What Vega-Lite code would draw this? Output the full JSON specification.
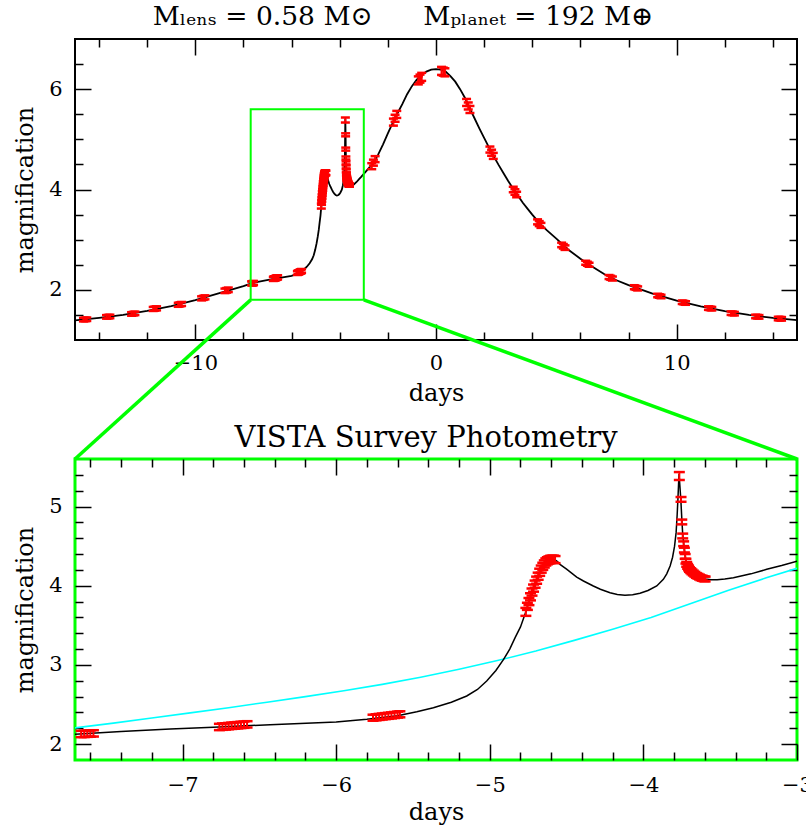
{
  "$schema": "https://vega.github.io/schema/vega-lite/v6.json",
  "background": "white",
  "padding": {"left": 12, "top": 2, "right": 0, "bottom": 0},
  "spacing": 119,
  "bounds": "flush",
  "config": {
    "font": "DejaVu Serif",
    "axis": {"domain": false, "grid": false, "tickColor": "black", "tickWidth": 1.5, "labelFont": "DejaVu Serif", "labelFontSize": 21, "labelColor": "black", "titleFont": "DejaVu Serif", "titleFontSize": 24, "titleFontWeight": "normal", "titleColor": "black", "labelFlush": false, "labelOverlap": false, "format": "~g"},
    "title": {"font": "DejaVu Serif", "fontSize": 26.5, "fontWeight": "normal", "color": "black"}
  },
  "datasets": {
    "model": [
      {"t": -15, "A": 1.39}, {"t": -14, "A": 1.44}, {"t": -13, "A": 1.5}, {"t": -12, "A": 1.58}, {"t": -11, "A": 1.675}, {"t": -10, "A": 1.795}, {"t": -9, "A": 1.935}, {"t": -8, "A": 2.075},
      {"t": -7.7, "A": 2.125}, {"t": -7.4, "A": 2.16}, {"t": -7.08, "A": 2.19}, {"t": -6.8, "A": 2.215}, {"t": -6.43, "A": 2.245}, {"t": -6.0, "A": 2.28}, {"t": -5.8, "A": 2.315}, {"t": -5.6, "A": 2.36},
      {"t": -5.475, "A": 2.41}, {"t": -5.367, "A": 2.46}, {"t": -5.25, "A": 2.53}, {"t": -5.15, "A": 2.608}, {"t": -5.08, "A": 2.69}, {"t": -5.02, "A": 2.797}, {"t": -4.96, "A": 2.93}, {"t": -4.91, "A": 3.07},
      {"t": -4.87, "A": 3.2}, {"t": -4.835, "A": 3.344}, {"t": -4.8, "A": 3.48}, {"t": -4.765, "A": 3.67}, {"t": -4.745, "A": 3.8}, {"t": -4.725, "A": 3.92}, {"t": -4.705, "A": 4.02}, {"t": -4.685, "A": 4.12},
      {"t": -4.665, "A": 4.21}, {"t": -4.645, "A": 4.275}, {"t": -4.625, "A": 4.315}, {"t": -4.605, "A": 4.332}, {"t": -4.585, "A": 4.334}, {"t": -4.565, "A": 4.315}, {"t": -4.543, "A": 4.27}, {"t": -4.5, "A": 4.21},
      {"t": -4.434, "A": 4.11}, {"t": -4.39, "A": 4.06}, {"t": -4.326, "A": 3.997}, {"t": -4.28, "A": 3.955}, {"t": -4.217, "A": 3.912}, {"t": -4.17, "A": 3.89}, {"t": -4.12, "A": 3.88}, {"t": -4.07, "A": 3.885},
      {"t": -4.022, "A": 3.905}, {"t": -3.97, "A": 3.94}, {"t": -3.913, "A": 3.997}, {"t": -3.87, "A": 4.08}, {"t": -3.848, "A": 4.15}, {"t": -3.826, "A": 4.25}, {"t": -3.81, "A": 4.36}, {"t": -3.797, "A": 4.5},
      {"t": -3.787, "A": 4.67}, {"t": -3.78, "A": 4.9}, {"t": -3.775, "A": 5.1}, {"t": -3.771, "A": 5.28}, {"t": -3.768, "A": 5.41}, {"t": -3.762, "A": 5.25}, {"t": -3.756, "A": 5.08}, {"t": -3.75, "A": 4.85},
      {"t": -3.744, "A": 4.65}, {"t": -3.738, "A": 4.53}, {"t": -3.733, "A": 4.45}, {"t": -3.723, "A": 4.32}, {"t": -3.712, "A": 4.245}, {"t": -3.7, "A": 4.205}, {"t": -3.684, "A": 4.175}, {"t": -3.665, "A": 4.145},
      {"t": -3.645, "A": 4.12}, {"t": -3.625, "A": 4.1}, {"t": -3.598, "A": 4.085}, {"t": -3.56, "A": 4.075}, {"t": -3.52, "A": 4.075}, {"t": -3.47, "A": 4.085}, {"t": -3.414, "A": 4.1}, {"t": -3.3, "A": 4.15},
      {"t": -3.197, "A": 4.207}, {"t": -3.1, "A": 4.255}, {"t": -3.0, "A": 4.31}, {"t": -2.8, "A": 4.42}, {"t": -2.6, "A": 4.535}, {"t": -2.4, "A": 4.7}, {"t": -2.2, "A": 4.9}, {"t": -2.0, "A": 5.12},
      {"t": -1.8, "A": 5.33}, {"t": -1.6, "A": 5.52}, {"t": -1.4, "A": 5.7}, {"t": -1.2, "A": 5.9}, {"t": -1.0, "A": 6.06}, {"t": -0.8, "A": 6.19}, {"t": -0.6, "A": 6.28}, {"t": -0.4, "A": 6.35},
      {"t": -0.2, "A": 6.39}, {"t": 0, "A": 6.4}, {"t": 0.2, "A": 6.39}, {"t": 0.4, "A": 6.35}, {"t": 0.6, "A": 6.26}, {"t": 0.8, "A": 6.15}, {"t": 1.0, "A": 6.0}, {"t": 1.2, "A": 5.83},
      {"t": 1.4, "A": 5.62}, {"t": 1.6, "A": 5.42}, {"t": 1.8, "A": 5.22}, {"t": 2.0, "A": 5.03}, {"t": 2.2, "A": 4.84}, {"t": 2.4, "A": 4.66}, {"t": 2.6, "A": 4.49}, {"t": 2.8, "A": 4.33},
      {"t": 3.0, "A": 4.17}, {"t": 3.2, "A": 4.02}, {"t": 3.4, "A": 3.88}, {"t": 3.6, "A": 3.74}, {"t": 3.8, "A": 3.62}, {"t": 4.0, "A": 3.5}, {"t": 4.3, "A": 3.33}, {"t": 4.6, "A": 3.19},
      {"t": 5.0, "A": 3.02}, {"t": 5.5, "A": 2.8}, {"t": 6.0, "A": 2.62}, {"t": 6.5, "A": 2.46}, {"t": 7.0, "A": 2.31}, {"t": 7.5, "A": 2.19}, {"t": 8.0, "A": 2.095}, {"t": 9.0, "A": 1.925},
      {"t": 10.0, "A": 1.785}, {"t": 11.0, "A": 1.67}, {"t": 12.0, "A": 1.575}, {"t": 13.0, "A": 1.5}, {"t": 14.0, "A": 1.44}, {"t": 15.0, "A": 1.395}
    ],
    "single": [
      {"t": -7.7, "A": 2.205}, {"t": -7.45, "A": 2.265}, {"t": -7.2, "A": 2.33}, {"t": -6.95, "A": 2.395}, {"t": -6.7, "A": 2.46}, {"t": -6.45, "A": 2.53}, {"t": -6.2, "A": 2.6}, {"t": -5.95, "A": 2.675},
      {"t": -5.7, "A": 2.755}, {"t": -5.45, "A": 2.845}, {"t": -5.2, "A": 2.945}, {"t": -4.95, "A": 3.055}, {"t": -4.7, "A": 3.175}, {"t": -4.45, "A": 3.31}, {"t": -4.2, "A": 3.45}, {"t": -3.95, "A": 3.6},
      {"t": -3.7, "A": 3.77}, {"t": -3.45, "A": 3.94}, {"t": -3.2, "A": 4.1}, {"t": -3.0, "A": 4.22}
    ],
    "obs": [
      {"t": -14.65, "lo": 1.371, "hi": 1.441}, {"t": -14.58, "lo": 1.375, "hi": 1.445}, {"t": -14.51, "lo": 1.379, "hi": 1.449},
      {"t": -13.69, "lo": 1.426, "hi": 1.496}, {"t": -13.62, "lo": 1.43, "hi": 1.5}, {"t": -13.55, "lo": 1.434, "hi": 1.504},
      {"t": -12.65, "lo": 1.484, "hi": 1.554}, {"t": -12.58, "lo": 1.49, "hi": 1.56}, {"t": -12.51, "lo": 1.496, "hi": 1.566},
      {"t": -11.75, "lo": 1.579, "hi": 1.659}, {"t": -11.68, "lo": 1.585, "hi": 1.665}, {"t": -11.61, "lo": 1.591, "hi": 1.671},
      {"t": -10.71, "lo": 1.662, "hi": 1.742}, {"t": -10.64, "lo": 1.67, "hi": 1.75}, {"t": -10.57, "lo": 1.678, "hi": 1.758},
      {"t": -9.74, "lo": 1.79, "hi": 1.87}, {"t": -9.67, "lo": 1.8, "hi": 1.88}, {"t": -9.6, "lo": 1.81, "hi": 1.89},
      {"t": -8.77, "lo": 1.935, "hi": 2.025}, {"t": -8.7, "lo": 1.945, "hi": 2.035}, {"t": -8.63, "lo": 1.955, "hi": 2.045},
      {"t": -7.66, "lo": 2.088, "hi": 2.168}, {"t": -7.64, "lo": 2.09, "hi": 2.17}, {"t": -7.62, "lo": 2.092, "hi": 2.172}, {"t": -7.6, "lo": 2.094, "hi": 2.174}, {"t": -7.58, "lo": 2.096, "hi": 2.176},
      {"t": -6.76, "lo": 2.177, "hi": 2.257}, {"t": -6.74, "lo": 2.181, "hi": 2.261}, {"t": -6.72, "lo": 2.184, "hi": 2.264}, {"t": -6.7, "lo": 2.188, "hi": 2.268}, {"t": -6.68, "lo": 2.192, "hi": 2.272},
      {"t": -6.66, "lo": 2.195, "hi": 2.275}, {"t": -6.64, "lo": 2.199, "hi": 2.279}, {"t": -6.62, "lo": 2.203, "hi": 2.283}, {"t": -6.6, "lo": 2.206, "hi": 2.286}, {"t": -6.58, "lo": 2.21, "hi": 2.29},
      {"t": -5.76, "lo": 2.296, "hi": 2.372}, {"t": -5.74, "lo": 2.301, "hi": 2.377}, {"t": -5.72, "lo": 2.306, "hi": 2.382}, {"t": -5.7, "lo": 2.311, "hi": 2.387}, {"t": -5.68, "lo": 2.316, "hi": 2.392},
      {"t": -5.66, "lo": 2.32, "hi": 2.396}, {"t": -5.64, "lo": 2.325, "hi": 2.401}, {"t": -5.62, "lo": 2.33, "hi": 2.406}, {"t": -5.6, "lo": 2.335, "hi": 2.411}, {"t": -5.585, "lo": 2.339, "hi": 2.415},
      {"t": -4.765, "lo": 3.62, "hi": 3.72}, {"t": -4.755, "lo": 3.695, "hi": 3.785}, {"t": -4.745, "lo": 3.755, "hi": 3.845}, {"t": -4.735, "lo": 3.815, "hi": 3.905}, {"t": -4.725, "lo": 3.875, "hi": 3.965},
      {"t": -4.715, "lo": 3.925, "hi": 4.015}, {"t": -4.705, "lo": 3.975, "hi": 4.065}, {"t": -4.695, "lo": 4.025, "hi": 4.115}, {"t": -4.685, "lo": 4.075, "hi": 4.165}, {"t": -4.675, "lo": 4.125, "hi": 4.215},
      {"t": -4.665, "lo": 4.165, "hi": 4.255}, {"t": -4.655, "lo": 4.2, "hi": 4.29}, {"t": -4.645, "lo": 4.23, "hi": 4.32}, {"t": -4.635, "lo": 4.255, "hi": 4.345}, {"t": -4.625, "lo": 4.27, "hi": 4.36},
      {"t": -4.615, "lo": 4.28, "hi": 4.37}, {"t": -4.605, "lo": 4.287, "hi": 4.377}, {"t": -4.595, "lo": 4.29, "hi": 4.38}, {"t": -4.585, "lo": 4.289, "hi": 4.379}, {"t": -4.575, "lo": 4.285, "hi": 4.375},
      {"t": -3.766, "lo": 5.335, "hi": 5.435}, {"t": -3.755, "lo": 5.06, "hi": 5.12}, {"t": -3.75, "lo": 4.775, "hi": 4.835}, {"t": -3.744, "lo": 4.598, "hi": 4.658}, {"t": -3.738, "lo": 4.5, "hi": 4.56},
      {"t": -3.733, "lo": 4.42, "hi": 4.48}, {"t": -3.728, "lo": 4.34, "hi": 4.4}, {"t": -3.723, "lo": 4.28, "hi": 4.34}, {"t": -3.718, "lo": 4.24, "hi": 4.3}, {"t": -3.712, "lo": 4.215, "hi": 4.275},
      {"t": -3.706, "lo": 4.195, "hi": 4.255}, {"t": -3.7, "lo": 4.175, "hi": 4.235}, {"t": -3.692, "lo": 4.16, "hi": 4.22}, {"t": -3.684, "lo": 4.145, "hi": 4.205}, {"t": -3.675, "lo": 4.13, "hi": 4.19},
      {"t": -3.665, "lo": 4.115, "hi": 4.175}, {"t": -3.655, "lo": 4.1, "hi": 4.16}, {"t": -3.645, "lo": 4.09, "hi": 4.15}, {"t": -3.635, "lo": 4.08, "hi": 4.14}, {"t": -3.625, "lo": 4.07, "hi": 4.13},
      {"t": -3.615, "lo": 4.064, "hi": 4.124}, {"t": -3.605, "lo": 4.058, "hi": 4.118}, {"t": -3.598, "lo": 4.055, "hi": 4.115},
      {"t": -2.67, "lo": 4.405, "hi": 4.525}, {"t": -2.6, "lo": 4.475, "hi": 4.595}, {"t": -2.53, "lo": 4.545, "hi": 4.665},
      {"t": -1.77, "lo": 5.273, "hi": 5.413}, {"t": -1.7, "lo": 5.35, "hi": 5.49}, {"t": -1.63, "lo": 5.427, "hi": 5.567},
      {"t": -0.735, "lo": 6.095, "hi": 6.255}, {"t": -0.665, "lo": 6.13, "hi": 6.29}, {"t": -0.595, "lo": 6.165, "hi": 6.325},
      {"t": 0.23, "lo": 6.284, "hi": 6.444}, {"t": 0.3, "lo": 6.27, "hi": 6.43}, {"t": 0.37, "lo": 6.256, "hi": 6.416},
      {"t": 1.27, "lo": 5.665, "hi": 5.805}, {"t": 1.34, "lo": 5.595, "hi": 5.735}, {"t": 1.41, "lo": 5.525, "hi": 5.665},
      {"t": 2.24, "lo": 4.736, "hi": 4.856}, {"t": 2.31, "lo": 4.673, "hi": 4.793}, {"t": 2.38, "lo": 4.61, "hi": 4.73},
      {"t": 3.21, "lo": 3.945, "hi": 4.055}, {"t": 3.28, "lo": 3.895, "hi": 4.005}, {"t": 3.35, "lo": 3.845, "hi": 3.955},
      {"t": 4.22, "lo": 3.305, "hi": 3.405}, {"t": 4.29, "lo": 3.27, "hi": 3.37}, {"t": 4.36, "lo": 3.235, "hi": 3.335},
      {"t": 5.22, "lo": 2.85, "hi": 2.94}, {"t": 5.29, "lo": 2.823, "hi": 2.913}, {"t": 5.36, "lo": 2.796, "hi": 2.886},
      {"t": 6.22, "lo": 2.501, "hi": 2.581}, {"t": 6.29, "lo": 2.48, "hi": 2.56}, {"t": 6.36, "lo": 2.459, "hi": 2.539},
      {"t": 7.19, "lo": 2.215, "hi": 2.295}, {"t": 7.26, "lo": 2.2, "hi": 2.28}, {"t": 7.33, "lo": 2.185, "hi": 2.265},
      {"t": 8.24, "lo": 2.012, "hi": 2.092}, {"t": 8.31, "lo": 2.0, "hi": 2.08}, {"t": 8.38, "lo": 1.988, "hi": 2.068},
      {"t": 9.21, "lo": 1.852, "hi": 1.922}, {"t": 9.28, "lo": 1.842, "hi": 1.912}, {"t": 9.35, "lo": 1.832, "hi": 1.902},
      {"t": 10.23, "lo": 1.718, "hi": 1.788}, {"t": 10.3, "lo": 1.71, "hi": 1.78}, {"t": 10.37, "lo": 1.702, "hi": 1.772},
      {"t": 11.32, "lo": 1.601, "hi": 1.671}, {"t": 11.39, "lo": 1.595, "hi": 1.665}, {"t": 11.46, "lo": 1.589, "hi": 1.659},
      {"t": 12.26, "lo": 1.5, "hi": 1.57}, {"t": 12.33, "lo": 1.495, "hi": 1.565}, {"t": 12.4, "lo": 1.49, "hi": 1.56},
      {"t": 13.28, "lo": 1.434, "hi": 1.504}, {"t": 13.35, "lo": 1.43, "hi": 1.5}, {"t": 13.42, "lo": 1.426, "hi": 1.496},
      {"t": 14.22, "lo": 1.393, "hi": 1.463}, {"t": 14.29, "lo": 1.39, "hi": 1.46}, {"t": 14.36, "lo": 1.387, "hi": 1.457}
    ],
    "box": [{"t": -7.7, "t2": -3, "A": 1.8, "A2": 5.6}],
    "connectors": [{"t": -7.7, "A": 1.8, "t2": -15, "A2": -1.372}, {"t": -3, "A": 1.8, "t2": 15, "A2": -1.372}]
  },
  "vconcat": [
    {
      "width": 722,
      "height": 301,
      "title": {"text": "Mₗₑₙₛ = 0.58 M⊙\u00a0\u00a0\u00a0\u00a0\u00a0\u00a0Mₚₗₐₙₑₜ = 192 M⊕", "anchor": "middle", "dx": -33, "offset": -13, "baseline": "alphabetic"},
      "view": {"stroke": "black", "strokeWidth": 2},
      "resolve": {"axis": {"x": "independent", "y": "independent"}},
      "layer": [
        {
          "data": {"name": "model"},
          "mark": {"type": "line", "color": "black", "strokeWidth": 1.8, "clip": true},
          "encoding": {
            "x": {"field": "t", "type": "quantitative", "scale": {"domain": [-15, 15], "nice": false, "zero": false},
              "axis": {"orient": "bottom", "title": "days", "values": [-14, -12, -10, -8, -6, -4, -2, 0, 2, 4, 6, 8, 10, 12, 14],
                "labelExpr": "datum.value % 10 === 0 ? datum.label : ''",
                "tickSize": {"condition": {"test": "datum.value % 10 === 0", "value": -16}, "value": -8},
                "labelPadding": 28, "titlePadding": 0}},
            "y": {"field": "A", "type": "quantitative", "scale": {"domain": [1, 7], "nice": false, "zero": false},
              "axis": {"orient": "left", "title": "magnification", "values": [1.5, 2, 2.5, 3, 3.5, 4, 4.5, 5, 5.5, 6, 6.5],
                "labelExpr": "datum.value % 2 === 0 ? datum.label : ''",
                "tickSize": {"condition": {"test": "datum.value % 2 === 0", "value": -16}, "value": -8},
                "labelPadding": 29, "titlePadding": 11}}
          }
        },
        {
          "data": {"name": "obs"},
          "mark": {"type": "rule", "color": "#ff0000", "strokeWidth": 2, "clip": true},
          "encoding": {
            "x": {"field": "t", "type": "quantitative", "scale": {"domain": [-15, 15], "nice": false, "zero": false}, "axis": null},
            "y": {"field": "lo", "type": "quantitative", "scale": {"domain": [1, 7], "nice": false, "zero": false}, "axis": null},
            "y2": {"field": "hi"}
          }
        },
        {
          "data": {"name": "obs"},
          "mark": {"type": "tick", "orient": "horizontal", "color": "#ff0000", "size": 9, "thickness": 2.5, "opacity": 1, "clip": true},
          "encoding": {
            "x": {"field": "t", "type": "quantitative", "scale": {"domain": [-15, 15], "nice": false, "zero": false}, "axis": null},
            "y": {"field": "lo", "type": "quantitative", "scale": {"domain": [1, 7], "nice": false, "zero": false}, "axis": null}
          }
        },
        {
          "data": {"name": "obs"},
          "mark": {"type": "tick", "orient": "horizontal", "color": "#ff0000", "size": 9, "thickness": 2.5, "opacity": 1, "clip": true},
          "encoding": {
            "x": {"field": "t", "type": "quantitative", "scale": {"domain": [-15, 15], "nice": false, "zero": false}, "axis": null},
            "y": {"field": "hi", "type": "quantitative", "scale": {"domain": [1, 7], "nice": false, "zero": false}, "axis": null}
          }
        },
        {
          "data": {"name": "box"},
          "mark": {"type": "rect", "fillOpacity": 0, "stroke": "#00ff00", "strokeWidth": 2},
          "encoding": {
            "x": {"field": "t", "type": "quantitative", "scale": {"domain": [-15, 15], "nice": false, "zero": false},
              "axis": {"orient": "top", "title": null, "labels": false, "values": [-14, -12, -10, -8, -6, -4, -2, 0, 2, 4, 6, 8, 10, 12, 14],
                "tickSize": {"condition": {"test": "datum.value % 10 === 0", "value": -16}, "value": -8}}},
            "x2": {"field": "t2"},
            "y": {"field": "A", "type": "quantitative", "scale": {"domain": [1, 7], "nice": false, "zero": false},
              "axis": {"orient": "right", "title": null, "labels": false, "values": [1.5, 2, 2.5, 3, 3.5, 4, 4.5, 5, 5.5, 6, 6.5],
                "tickSize": {"condition": {"test": "datum.value % 2 === 0", "value": -16}, "value": -8}}},
            "y2": {"field": "A2"}
          }
        },
        {
          "data": {"name": "connectors"},
          "mark": {"type": "rule", "color": "#00ff00", "strokeWidth": 3.5, "clip": false},
          "encoding": {
            "x": {"field": "t", "type": "quantitative", "scale": {"domain": [-15, 15], "nice": false, "zero": false}, "axis": null},
            "x2": {"field": "t2"},
            "y": {"field": "A", "type": "quantitative", "scale": {"domain": [1, 7], "nice": false, "zero": false}, "axis": null},
            "y2": {"field": "A2"}
          }
        }
      ]
    },
    {
      "width": 722,
      "height": 301,
      "title": {"text": "VISTA Survey Photometry", "fontSize": 29, "anchor": "middle", "dx": -10, "offset": -18, "baseline": "alphabetic"},
      "view": {"stroke": "#00ff00", "strokeWidth": 3},
      "resolve": {"axis": {"x": "independent", "y": "independent"}},
      "layer": [
        {
          "data": {"name": "single"},
          "mark": {"type": "line", "color": "#00ffff", "strokeWidth": 1.6, "clip": true},
          "encoding": {
            "x": {"field": "t", "type": "quantitative", "scale": {"domain": [-7.7, -3], "nice": false, "zero": false},
              "axis": {"orient": "bottom", "title": "days", "values": [-7.6, -7.4, -7.2, -7, -6.8, -6.6, -6.4, -6.2, -6, -5.8, -5.6, -5.4, -5.2, -5, -4.8, -4.6, -4.4, -4.2, -4, -3.8, -3.6, -3.4, -3.2, -3],
                "labelExpr": "abs(datum.value - round(datum.value)) < 0.001 ? datum.label : ''",
                "tickSize": {"condition": {"test": "abs(datum.value - round(datum.value)) < 0.001", "value": -16}, "value": -8},
                "labelPadding": 30, "titlePadding": -3}},
            "y": {"field": "A", "type": "quantitative", "scale": {"domain": [1.8, 5.6], "nice": false, "zero": false},
              "axis": {"orient": "left", "title": "magnification", "values": [2, 2.2, 2.4, 2.6, 2.8, 3, 3.2, 3.4, 3.6, 3.8, 4, 4.2, 4.4, 4.6, 4.8, 5, 5.2, 5.4],
                "labelExpr": "abs(datum.value - round(datum.value)) < 0.001 ? datum.label : ''",
                "tickSize": {"condition": {"test": "abs(datum.value - round(datum.value)) < 0.001", "value": -16}, "value": -8},
                "labelPadding": 29, "titlePadding": 11}}
          }
        },
        {
          "data": {"name": "model"},
          "mark": {"type": "line", "color": "black", "strokeWidth": 1.5, "clip": true},
          "encoding": {
            "x": {"field": "t", "type": "quantitative", "scale": {"domain": [-7.7, -3], "nice": false, "zero": false}, "axis": null},
            "y": {"field": "A", "type": "quantitative", "scale": {"domain": [1.8, 5.6], "nice": false, "zero": false}, "axis": null}
          }
        },
        {
          "data": {"name": "obs"},
          "mark": {"type": "rule", "color": "#ff0000", "strokeWidth": 2, "clip": true},
          "encoding": {
            "x": {"field": "t", "type": "quantitative", "scale": {"domain": [-7.7, -3], "nice": false, "zero": false}, "axis": null},
            "y": {"field": "lo", "type": "quantitative", "scale": {"domain": [1.8, 5.6], "nice": false, "zero": false}, "axis": null},
            "y2": {"field": "hi"}
          }
        },
        {
          "data": {"name": "obs"},
          "mark": {"type": "tick", "orient": "horizontal", "color": "#ff0000", "size": 11, "thickness": 2.5, "opacity": 1, "clip": true},
          "encoding": {
            "x": {"field": "t", "type": "quantitative", "scale": {"domain": [-7.7, -3], "nice": false, "zero": false}, "axis": null},
            "y": {"field": "lo", "type": "quantitative", "scale": {"domain": [1.8, 5.6], "nice": false, "zero": false}, "axis": null}
          }
        },
        {
          "data": {"name": "obs"},
          "mark": {"type": "tick", "orient": "horizontal", "color": "#ff0000", "size": 11, "thickness": 2.5, "opacity": 1, "clip": true},
          "encoding": {
            "x": {"field": "t", "type": "quantitative", "scale": {"domain": [-7.7, -3], "nice": false, "zero": false},
              "axis": {"orient": "top", "title": null, "labels": false, "values": [-7.6, -7.4, -7.2, -7, -6.8, -6.6, -6.4, -6.2, -6, -5.8, -5.6, -5.4, -5.2, -5, -4.8, -4.6, -4.4, -4.2, -4, -3.8, -3.6, -3.4, -3.2],
                "tickSize": {"condition": {"test": "abs(datum.value - round(datum.value)) < 0.001", "value": -16}, "value": -8}}},
            "y": {"field": "hi", "type": "quantitative", "scale": {"domain": [1.8, 5.6], "nice": false, "zero": false},
              "axis": {"orient": "right", "title": null, "labels": false, "values": [2, 2.2, 2.4, 2.6, 2.8, 3, 3.2, 3.4, 3.6, 3.8, 4, 4.2, 4.4, 4.6, 4.8, 5, 5.2, 5.4],
                "tickSize": {"condition": {"test": "abs(datum.value - round(datum.value)) < 0.001", "value": -16}, "value": -8}}}
          }
        }
      ]
    }
  ]
}
